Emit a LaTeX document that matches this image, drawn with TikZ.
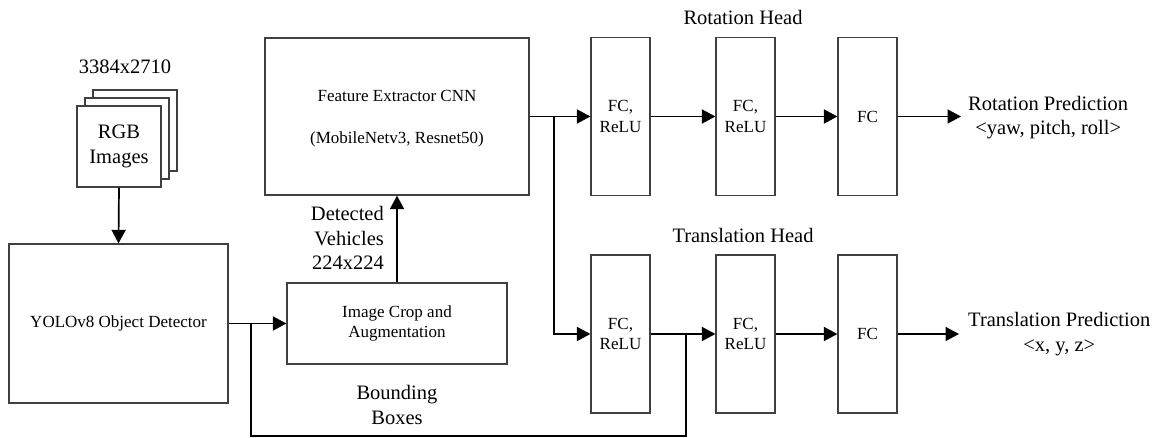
\documentclass[tikz,border=0pt]{standalone}
\usepackage{fontspec}
\setmainfont{Liberation Serif}
\usetikzlibrary{arrows.meta}
\begin{document}
\begin{tikzpicture}[x=1pt,y=-1pt,
  box/.style={draw=black!75,line width=1.2pt,fill=white,inner sep=0pt,align=center,font=\fontsize{17}{20.5}\selectfont},
  fcbox/.style={box,minimum width=59pt,minimum height=158pt},
  stackbox/.style={box,minimum width=84pt,minimum height=81pt,font=\fontsize{20.5}{24.5}\selectfont},
  big/.style={inner sep=0pt,align=center,font=\fontsize{20.5}{24.5}\selectfont},
  small/.style={inner sep=0pt,align=center,font=\fontsize{17}{20.5}\selectfont},
  conn/.style={line width=1.7pt,black},
  arr/.style={conn,-{Triangle[length=13.5pt 0,width=14pt 0]}}]
\useasboundingbox (0,0) rectangle (1158,438);
% RGB stack
\node[stackbox] (rgb3) at (135,130.5) {};
\node[stackbox] (rgb2) at (127,138.5) {};
\node[stackbox] (rgb1) at (119,146.5) {RGB\\Images};
\node[big] (res) at (125,67) {3384x2710};
% main boxes
\node[box,minimum width=219pt,minimum height=159pt] (yolo) at (118.5,323.5) {YOLOv8 Object Detector};
\node[box,minimum width=220pt,minimum height=81pt] (crop) at (397,323.5) {Image Crop and\\Augmentation};
\node[box,minimum width=264pt,minimum height=157pt] (fe) at (397,116.5) {};
\node[small] (fet1) at (397,96) {Feature Extractor CNN};
\node[small] (fet2) at (397,139) {(MobileNetv3, Resnet50)};
% heads
\node[fcbox] (r1) at (620.5,116.5) {FC,\\ReLU};
\node[fcbox] (r2) at (745.5,116.5) {FC,\\ReLU};
\node[fcbox] (r3) at (867.5,116.5) {FC};
\node[fcbox] (t1) at (620.5,334) {FC,\\ReLU};
\node[fcbox] (t2) at (745.5,334) {FC,\\ReLU};
\node[fcbox] (t3) at (867.5,334) {FC};
\node[big] (rh) at (743,17) {Rotation Head};
\node[big] (th) at (743,235) {Translation Head};
% outputs
\node[big,anchor=west] (rp) at (968,117.5) {Rotation Prediction\\<yaw, pitch, roll>};
\node[big,anchor=west] (tp) at (968,334) {Translation Prediction\\<x, y, z>};
\coordinate (rpin) at (961,116.5);
\coordinate (tpin) at (959,334);
% labels
\node[big,anchor=east,align=right] (det) at (384,238) {Detected\\Vehicles\\224x224};
\node[big] (bb) at (397,405) {Bounding\\Boxes};
% junctions
\coordinate (jb) at (251,323.5);
\coordinate (jf) at (554,116.5);
\coordinate (jt) at (686,334);
\coordinate (bl) at (251,436);
\coordinate (br) at (686,436);
% connectors
\draw[arr] (rgb1.south) -- (yolo.north);
\draw[arr] (yolo.east) -- (crop.west);
\draw[conn] (jb) -- (bl) -- (br) -- (jt);
\draw[arr] (crop.north) -- (crop.north |- fe.south);
\draw[arr] (fe.east) -- (r1.west);
\draw[arr] (jf) |- (t1.west);
\draw[arr] (r1) -- (r2);
\draw[arr] (r2) -- (r3);
\draw[arr] (r3.east) -- (rpin);
\draw[arr] (t1) -- (t2);
\draw[arr] (t2) -- (t3);
\draw[arr] (t3.east) -- (tpin);
\end{tikzpicture}
\end{document}
